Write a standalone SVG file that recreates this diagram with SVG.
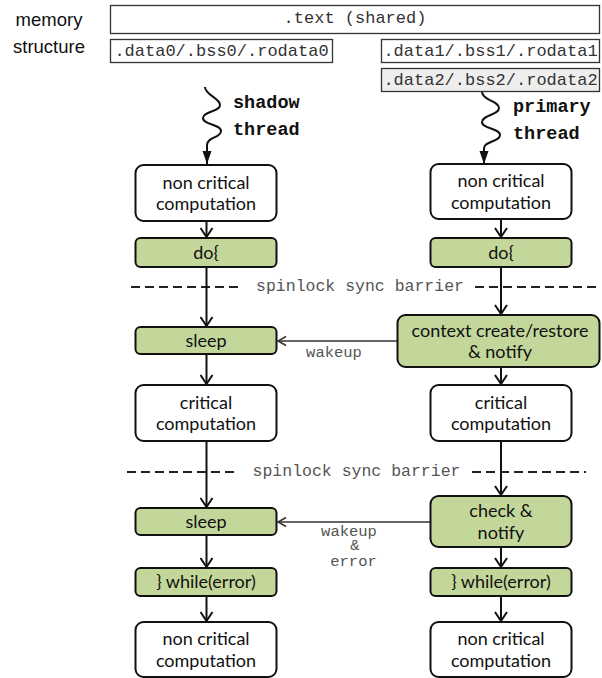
<svg xmlns="http://www.w3.org/2000/svg" width="602" height="678" viewBox="0 0 602 678">
<style>
.mem{fill:#fff;stroke:#333;stroke-width:1.3}
.mono{font-family:"Liberation Mono","Courier New",monospace;fill:#333}
.lbl{font-family:"Liberation Sans",Arial,sans-serif;font-size:18.5px;fill:#111;text-anchor:middle}
.nc{fill:#fff;stroke:#111;stroke-width:2}
.gr{fill:#c4d79b;stroke:#111;stroke-width:2}
.t{font-family:Lato,"Open Sans",sans-serif;font-size:18px;fill:#111;text-anchor:middle}
.ar{fill:none;stroke:#111;stroke-width:2}
.wk{fill:none;stroke:#333;stroke-width:1.5}
.dash{fill:none;stroke:#222;stroke-width:2;stroke-dasharray:9 5}
.bar{font-family:"Liberation Mono","Courier New",monospace;font-size:16.5px;fill:#555;text-anchor:middle}
.wl{font-family:"Liberation Mono","Courier New",monospace;font-size:15.5px;fill:#555;text-anchor:middle}
.th{font-family:"Liberation Mono","Courier New",monospace;font-size:18.5px;font-weight:bold;fill:#111}
</style>
<defs>
<marker id="chev" markerUnits="userSpaceOnUse" markerWidth="14" markerHeight="14" viewBox="0 0 14 14" refX="12" refY="7" orient="auto">
<path d="M3,1 L12,7 L3,13" fill="none" stroke="#111" stroke-width="2"/>
</marker>
<marker id="chevs" markerUnits="userSpaceOnUse" markerWidth="12" markerHeight="12" viewBox="0 0 12 12" refX="10" refY="6" orient="auto">
<path d="M2,1.5 L10,6 L2,10.5" fill="none" stroke="#333" stroke-width="1.5"/>
</marker>
<marker id="tri" markerUnits="userSpaceOnUse" markerWidth="14" markerHeight="12" viewBox="0 0 14 12" refX="13" refY="6" orient="auto">
<path d="M0,1.5 L13,6 L0,10.5 Z" fill="#111"/>
</marker>
</defs>

<g id="memory-label">
<text class="lbl" x="49" y="26">memory</text>
<text class="lbl" x="49" y="53">structure</text>
</g>
<g id="mem-text">
<rect class="mem" x="110.5" y="5.5" width="489" height="28"/>
<text class="mono" font-size="17" x="355" y="23" text-anchor="middle">.text (shared)</text>
</g>
<g id="mem-data0">
<rect class="mem" x="110.5" y="39.5" width="222" height="23"/>
<text class="mono" font-size="17" x="221.5" y="55.5" text-anchor="middle">.data0/.bss0/.rodata0</text>
</g>
<g id="mem-data1">
<rect class="mem" x="381.5" y="39.5" width="218" height="23"/>
<text class="mono" font-size="17" x="490.5" y="55.5" text-anchor="middle">.data1/.bss1/.rodata1</text>
</g>
<g id="mem-data2">
<rect class="mem" x="381.5" y="68.5" width="218" height="23" style="fill:#eeeeee"/>
<text class="mono" font-size="17" x="490.5" y="85" text-anchor="middle">.data2/.bss2/.rodata2</text>
</g>

<g id="thread-labels">
<text class="th" x="233" y="108">shadow</text>
<text class="th" x="233" y="135">thread</text>
<text class="th" x="513" y="112">primary</text>
<text class="th" x="513" y="139">thread</text>
</g>

<g id="barriers">
<line class="dash" x1="131" y1="287" x2="242" y2="287"/>
<text class="bar" x="360" y="291">spinlock sync barrier</text>
<line class="dash" x1="475" y1="287" x2="600" y2="287"/>
<line class="dash" x1="127" y1="472" x2="238" y2="472"/>
<text class="bar" x="356.5" y="476">spinlock sync barrier</text>
<line class="dash" x1="472" y1="472" x2="586" y2="472"/>
</g>

<g id="connectors">
<path class="ar" d="M205,87 C205,95 220,98 220,105 C220,112 203,111 203,118 C203,125 221,124 221,131 C221,138 207,137 207,145 L207,164" marker-end="url(#tri)"/>
<path class="ar" d="M482,92 C482,100 499,101 499,108 C499,115 482,115 482,122 C482,129 500,128 500,135 C500,142 484,141 484,148 L484,164" marker-end="url(#tri)"/>
<line class="ar" x1="206.5" y1="221" x2="206.5" y2="237" marker-end="url(#chev)"/>
<line class="ar" x1="206.5" y1="267" x2="206.5" y2="326" marker-end="url(#chev)"/>
<line class="ar" x1="206.5" y1="354" x2="206.5" y2="384" marker-end="url(#chev)"/>
<line class="ar" x1="206.5" y1="441" x2="206.5" y2="507" marker-end="url(#chev)"/>
<line class="ar" x1="206.5" y1="535" x2="206.5" y2="567" marker-end="url(#chev)"/>
<line class="ar" x1="206.5" y1="596" x2="206.5" y2="621" marker-end="url(#chev)"/>
<line class="ar" x1="501" y1="219" x2="501" y2="237" marker-end="url(#chev)"/>
<line class="ar" x1="501" y1="267" x2="501" y2="314" marker-end="url(#chev)"/>
<line class="ar" x1="501" y1="367" x2="501" y2="384" marker-end="url(#chev)"/>
<line class="ar" x1="501" y1="441" x2="501" y2="495" marker-end="url(#chev)"/>
<line class="ar" x1="501" y1="547" x2="501" y2="567" marker-end="url(#chev)"/>
<line class="ar" x1="501" y1="596" x2="501" y2="621" marker-end="url(#chev)"/>
<line class="wk" x1="397" y1="341" x2="278" y2="341" marker-end="url(#chevs)"/>
<line class="wk" x1="430" y1="522" x2="278" y2="522" marker-end="url(#chevs)"/>
<text class="wl" x="334" y="357">wakeup</text>
<text class="wl" x="349" y="536">wakeup</text>
<text class="wl" x="355" y="550" font-size="10px">&amp;</text>
<text class="wl" x="353.5" y="566">error</text>
</g>

<g id="shadow-noncrit1">
<rect class="nc" x="135.5" y="165" width="141" height="56" rx="8"/>
<text class="t" x="206" y="188.5">non critical</text>
<text class="t" x="206" y="210">computation</text>
</g>
<g id="shadow-do">
<rect class="gr" x="135.5" y="238" width="141" height="29" rx="5"/>
<text class="t" x="206" y="259">do{</text>
</g>
<g id="shadow-sleep1">
<rect class="gr" x="135.5" y="327" width="141" height="27" rx="5"/>
<text class="t" x="206" y="347">sleep</text>
</g>
<g id="shadow-crit">
<rect class="nc" x="135.5" y="385" width="141" height="56" rx="8"/>
<text class="t" x="206" y="408.5">critical</text>
<text class="t" x="206" y="430">computation</text>
</g>
<g id="shadow-sleep2">
<rect class="gr" x="135.5" y="508" width="141" height="27" rx="5"/>
<text class="t" x="206" y="528">sleep</text>
</g>
<g id="shadow-while">
<rect class="gr" x="135.5" y="568" width="141" height="28" rx="5"/>
<text class="t" x="206" y="588">} while(error)</text>
</g>
<g id="shadow-noncrit2">
<rect class="nc" x="135.5" y="622" width="141" height="55" rx="8"/>
<text class="t" x="206" y="645">non critical</text>
<text class="t" x="206" y="667">computation</text>
</g>

<g id="primary-noncrit1">
<rect class="nc" x="430.5" y="164" width="141" height="55" rx="8"/>
<text class="t" x="501" y="187">non critical</text>
<text class="t" x="501" y="209">computation</text>
</g>
<g id="primary-do">
<rect class="gr" x="430.5" y="238" width="141" height="29" rx="5"/>
<text class="t" x="501" y="259">do{</text>
</g>
<g id="primary-context">
<rect class="gr" x="397.5" y="315" width="202" height="52" rx="8"/>
<text class="t" x="500" y="337">context create/restore</text>
<text class="t" x="500" y="358">&amp; notify</text>
</g>
<g id="primary-crit">
<rect class="nc" x="430.5" y="385" width="141" height="56" rx="8"/>
<text class="t" x="501" y="408.5">critical</text>
<text class="t" x="501" y="430">computation</text>
</g>
<g id="primary-check">
<rect class="gr" x="430.5" y="496" width="141" height="51" rx="8"/>
<text class="t" x="501" y="517">check &amp;</text>
<text class="t" x="501" y="538.5">notify</text>
</g>
<g id="primary-while">
<rect class="gr" x="430.5" y="568" width="141" height="28" rx="5"/>
<text class="t" x="501" y="588">} while(error)</text>
</g>
<g id="primary-noncrit2">
<rect class="nc" x="430.5" y="622" width="141" height="55" rx="8"/>
<text class="t" x="501" y="645">non critical</text>
<text class="t" x="501" y="667">computation</text>
</g>
</svg>
